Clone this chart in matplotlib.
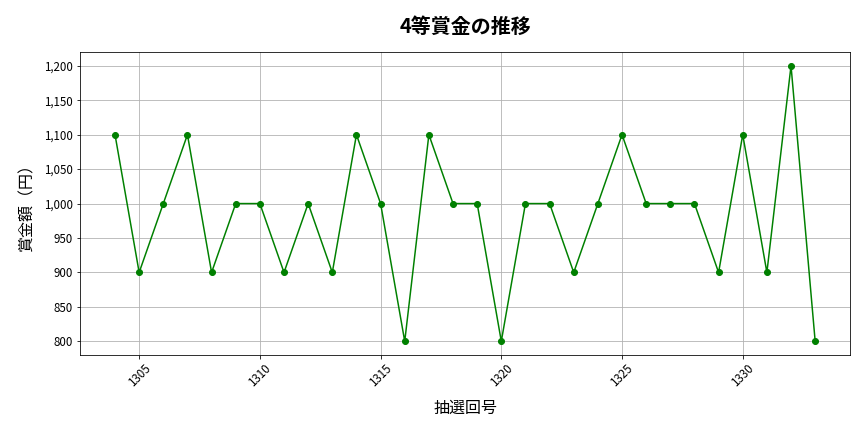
import matplotlib
matplotlib.use("Agg")
import matplotlib.pyplot as plt
from matplotlib.ticker import FuncFormatter

plt.rcParams['font.family'] = ['Noto Sans CJK JP', 'DejaVu Sans']

draws = list(range(1304, 1334))
prizes = [1100, 900, 1000, 1100, 900, 1000, 1000, 900, 1000, 900,
          1100, 1000, 800, 1100, 1000, 1000, 800, 1000, 1000, 900,
          1000, 1100, 1000, 1000, 1000, 900, 1100, 900, 1200, 800]

fig, ax = plt.subplots(figsize=(12, 6), dpi=72)
ax.plot(draws, prizes, color='green', marker='o', markersize=6, linewidth=1.5)
ax.set_title('4等賞金の推移', fontsize=20, fontweight='bold', pad=19)
ax.set_xlabel('抽選回号', fontsize=16, labelpad=10)
ax.set_ylabel('賞金額（円）', fontsize=16, labelpad=8)
ax.grid(True, color='#b0b0b0', linewidth=0.8)
ax.yaxis.set_major_formatter(FuncFormatter(lambda v, p: f'{int(v):,}'))
ax.tick_params(axis='both', labelsize=11.5)
plt.setp(ax.get_xticklabels(), rotation=45)
fig.subplots_adjust(left=0.0926, right=0.984, top=0.8796, bottom=0.178)
fig.savefig('out.png')
